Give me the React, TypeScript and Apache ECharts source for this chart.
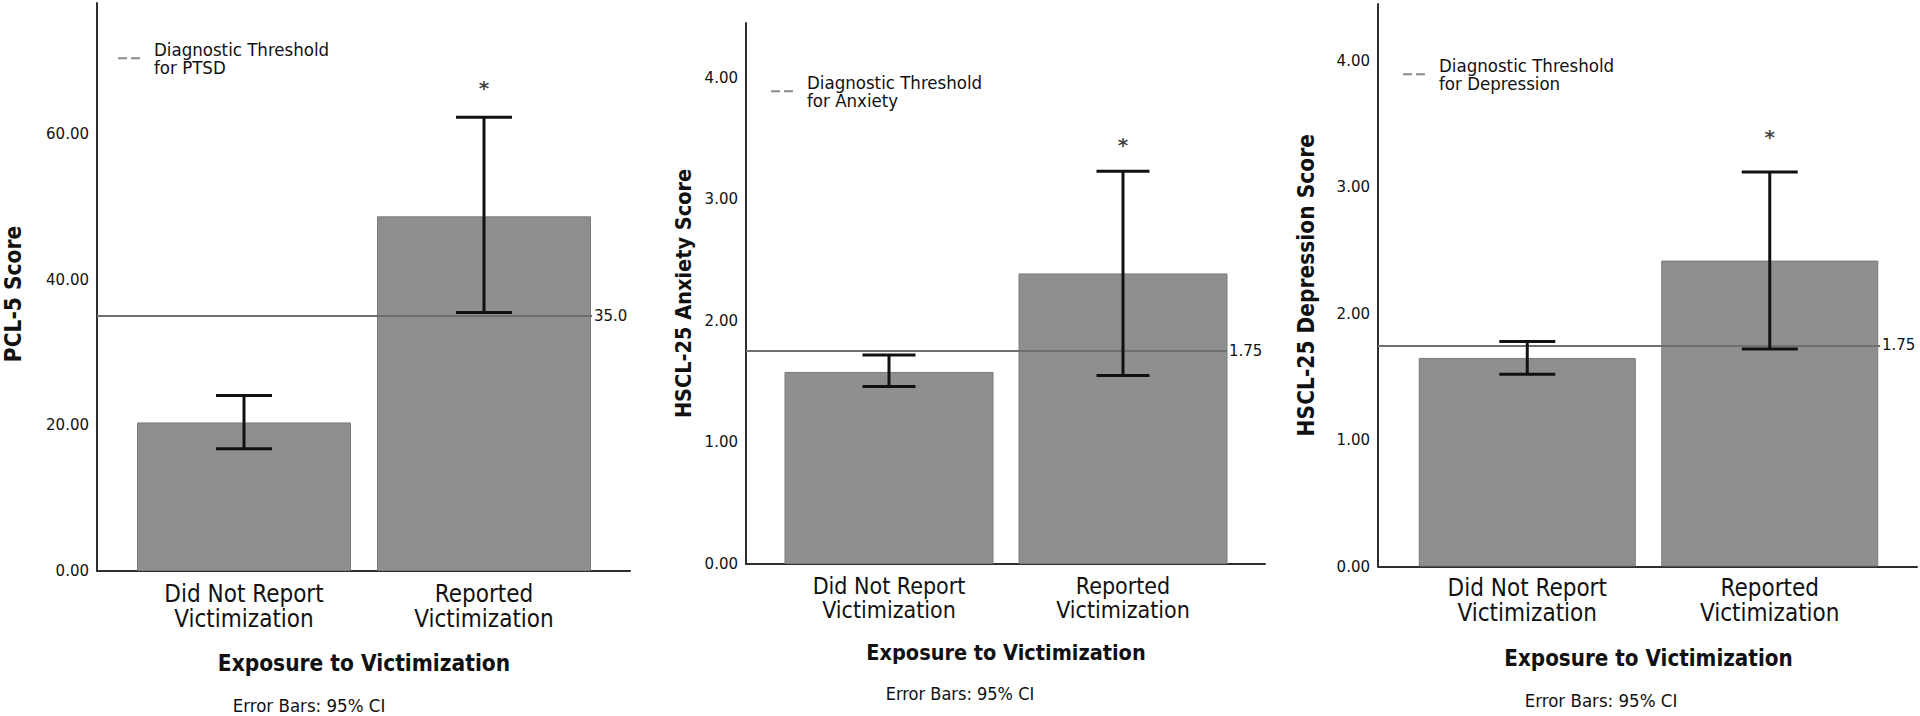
import React, { useEffect, useRef } from "react";
import * as echarts from "echarts";

// ---------- data ----------
const CATEGORIES = ["Did Not Report\nVictimization", "Reported\nVictimization"];
const X_AXIS_TITLE = "Exposure to Victimization";
const FOOTNOTE = "Error Bars: 95% CI";

const PTSD_TITLE = "PCL-5 Score";
const PTSD_MEAN = [20.4, 48.7];
const PTSD_CI_LOW = [16.8, 35.5];
const PTSD_CI_HIGH = [24.1, 62.3];
const PTSD_STAR = [null, 66.3];
const PTSD_THRESHOLD = 35;
const PTSD_THRESHOLD_LABEL = "35.0";
const PTSD_LEGEND = "Diagnostic Threshold\nfor PTSD";
const PTSD_AXIS_MAX = 78;
const PTSD_TICK_STEP = 20;

const ANX_TITLE = "HSCL-25 Anxiety Score";
const ANX_MEAN = [1.58, 2.39];
const ANX_CI_LOW = [1.46, 1.55];
const ANX_CI_HIGH = [1.72, 3.23];
const ANX_STAR = [null, 3.45];
const ANX_THRESHOLD = 1.75;
const ANX_THRESHOLD_LABEL = "1.75";
const ANX_LEGEND = "Diagnostic Threshold\nfor Anxiety";
const ANX_AXIS_MAX = 4.45;
const ANX_TICK_STEP = 1;

const DEP_TITLE = "HSCL-25 Depression Score";
const DEP_MEAN = [1.65, 2.42];
const DEP_CI_LOW = [1.52, 1.72];
const DEP_CI_HIGH = [1.78, 3.12];
const DEP_STAR = [null, 3.4];
const DEP_THRESHOLD = 1.75;
const DEP_THRESHOLD_LABEL = "1.75";
const DEP_LEGEND = "Diagnostic Threshold\nfor Depression";
const DEP_AXIS_MAX = 4.45;
const DEP_TICK_STEP = 1;

// ---------- styles ----------
const COND = '"DejaVu Sans Condensed", "DejaVu Sans", sans-serif';
const REG = '"DejaVu Sans", sans-serif';
const TEXT = "#111111";
const AXIS_COLOR = "#2e2e2e";
const BAR_FILL = "#8f8f8f";
const BAR_BORDER = "#7a7a7a";
const THRESH_COLOR = "#6f6f6f";
const LEGEND_ICON = "path://M0,0h9v2h-9z M13,0h9v2h-9z";

type Panel = {
  title: string; mean: number[]; lo: number[]; hi: number[]; star: (number | null)[];
  thr: number; thrLabel: string; legend: string; max: number; step: number;
  axisX: number; baseEnd: number; thrEnd: number; top: number; base: number;
  bLeft: number; bRight: number; barW: number; cap: number;
  nameGap: number; titleSize: number; titleShift: number;
  legLeft: number; legTop: number; legSize: number;
  catSize: number; catLH: number; catMargin: number;
  xNameGap: number; xNameSize: number;
  footX: number; footY: number; footSize: number;
};

const PANELS: Panel[] = [
  {
    title: PTSD_TITLE, mean: PTSD_MEAN, lo: PTSD_CI_LOW, hi: PTSD_CI_HIGH, star: PTSD_STAR,
    thr: PTSD_THRESHOLD, thrLabel: PTSD_THRESHOLD_LABEL, legend: PTSD_LEGEND, max: PTSD_AXIS_MAX, step: PTSD_TICK_STEP,
    axisX: 97, baseEnd: 630, thrEnd: 592, top: 3, base: 571,
    bLeft: 124, bRight: 604, barW: 214, cap: 56,
    nameGap: 73, titleSize: 22.5, titleShift: 14,
    legLeft: 118, legTop: 40, legSize: 18.5,
    catSize: 24, catLH: 25, catMargin: 10.5,
    xNameGap: 80, xNameSize: 22.5,
    footX: 309, footY: 705, footSize: 18.5,
  },
  {
    title: ANX_TITLE, mean: ANX_MEAN, lo: ANX_CI_LOW, hi: ANX_CI_HIGH, star: ANX_STAR,
    thr: ANX_THRESHOLD, thrLabel: ANX_THRESHOLD_LABEL, legend: ANX_LEGEND, max: ANX_AXIS_MAX, step: ANX_TICK_STEP,
    axisX: 746, baseEnd: 1265, thrEnd: 1227, top: 23, base: 564,
    bLeft: 772, bRight: 1240, barW: 209, cap: 53,
    nameGap: 52, titleSize: 21.5, titleShift: 0,
    legLeft: 771, legTop: 73, legSize: 18.5,
    catSize: 23, catLH: 24, catMargin: 10,
    xNameGap: 77, xNameSize: 21.5,
    footX: 960, footY: 693, footSize: 18,
  },
  {
    title: DEP_TITLE, mean: DEP_MEAN, lo: DEP_CI_LOW, hi: DEP_CI_HIGH, star: DEP_STAR,
    thr: DEP_THRESHOLD, thrLabel: DEP_THRESHOLD_LABEL, legend: DEP_LEGEND, max: DEP_AXIS_MAX, step: DEP_TICK_STEP,
    axisX: 1378, baseEnd: 1917, thrEnd: 1880, top: 4, base: 566.5,
    bLeft: 1406, bRight: 1891, barW: 217, cap: 56,
    nameGap: 61, titleSize: 22.5, titleShift: 0,
    legLeft: 1403, legTop: 56, legSize: 18.5,
    catSize: 24, catLH: 25, catMargin: 8.5,
    xNameGap: 80, xNameSize: 22.2,
    footX: 1601, footY: 700, footSize: 18.5,
  },
];

function buildOption() {
  const grid: any[] = [];
  const xAxis: any[] = [];
  const yAxis: any[] = [];
  const series: any[] = [];
  const legend: any[] = [];
  const graphic: any[] = [];

  PANELS.forEach((p, pi) => {
    const height = p.base - p.top;
    const gA = pi * 3, gT = pi * 3 + 1, gB = pi * 3 + 2;
    const common = { containLabel: false, outerBoundsMode: "none", top: p.top, height };
    grid[gA] = { ...common, left: p.axisX, width: p.baseEnd - p.axisX };
    grid[gT] = { ...common, left: p.axisX, width: p.thrEnd - p.axisX };
    grid[gB] = { ...common, left: p.bLeft, width: p.bRight - p.bLeft };

    // grid A: y axis with labels and baseline
    xAxis[gA] = {
      gridIndex: gA, type: "value", min: 0, max: 1,
      axisLine: { show: true, onZero: false, lineStyle: { color: AXIS_COLOR, width: 2 } },
      axisTick: { show: false }, axisLabel: { show: false }, splitLine: { show: false },
    };
    yAxis[gA] = {
      gridIndex: gA, type: "value", min: 0, max: p.max, interval: p.step,
      axisLine: { show: true, onZero: false, lineStyle: { color: AXIS_COLOR, width: 2 } },
      axisTick: { show: false }, splitLine: { show: false },
      axisLabel: {
        showMaxLabel: false, margin: 8, fontSize: 15, fontFamily: REG, color: TEXT,
        formatter: (v: number) => v.toFixed(2),
      },
      name: p.title, nameLocation: "middle", nameGap: p.nameGap,
      nameTextStyle: {
        fontFamily: COND, fontWeight: "bold", fontSize: p.titleSize, color: TEXT,
        padding: [0, p.titleShift, 0, 0],
      },
    };

    // grid T: threshold line
    xAxis[gT] = { gridIndex: gT, type: "value", min: 0, max: 1, show: false };
    yAxis[gT] = { gridIndex: gT, type: "value", min: 0, max: p.max, show: false };
    series.push({
      type: "line", name: p.legend, xAxisIndex: gT, yAxisIndex: gT, data: [],
      symbol: "none", itemStyle: { color: "#8a8a8a" }, lineStyle: { color: THRESH_COLOR, width: 2 },
      markLine: {
        silent: true, symbol: "none",
        lineStyle: { color: THRESH_COLOR, width: 2, type: "solid" },
        label: {
          show: true, position: "end", distance: 2, formatter: p.thrLabel,
          fontSize: 15, fontFamily: REG, color: TEXT,
        },
        data: [{ yAxis: p.thr }],
      },
    });

    // grid B: bars
    xAxis[gB] = {
      gridIndex: gB, type: "category", data: CATEGORIES,
      axisLine: { show: false }, axisTick: { show: false },
      axisLabel: {
        interval: 0, margin: p.catMargin, fontSize: p.catSize, lineHeight: p.catLH,
        fontFamily: COND, color: TEXT,
      },
      name: X_AXIS_TITLE, nameLocation: "middle", nameGap: p.xNameGap,
      nameTextStyle: { fontFamily: COND, fontWeight: "bold", fontSize: p.xNameSize, color: TEXT },
    };
    yAxis[gB] = { gridIndex: gB, type: "value", min: 0, max: p.max, show: false };

    series.push({
      type: "bar", xAxisIndex: gB, yAxisIndex: gB, data: p.mean, barWidth: p.barW,
      itemStyle: { color: BAR_FILL, borderColor: BAR_BORDER, borderWidth: 1 },
      z: 1,
    });

    const cap = p.cap;
    series.push({
      type: "custom", xAxisIndex: gB, yAxisIndex: gB, z: 5,
      data: p.lo.map((l, i) => [i, l, p.hi[i]]),
      renderItem: (params: any, api: any) => {
        const i = api.value(0);
        const a = api.coord([i, api.value(1)]);
        const b = api.coord([i, api.value(2)]);
        const st = { stroke: "#111111", lineWidth: 3 };
        return {
          type: "group",
          children: [
            { type: "line", shape: { x1: a[0], y1: a[1], x2: b[0], y2: b[1] }, style: st },
            { type: "line", shape: { x1: a[0] - cap / 2, y1: a[1], x2: a[0] + cap / 2, y2: a[1] }, style: st },
            { type: "line", shape: { x1: b[0] - cap / 2, y1: b[1], x2: b[0] + cap / 2, y2: b[1] }, style: st },
          ],
        };
      },
    });

    series.push({
      type: "scatter", xAxisIndex: gB, yAxisIndex: gB, z: 6,
      data: p.star.map((v, i) => (v == null ? null : [i, v])).filter((d) => d != null),
      symbolSize: 1, itemStyle: { color: "rgba(0,0,0,0)" },
      label: {
        show: true, position: "inside", formatter: "*", fontSize: 20, fontWeight: "bold",
        fontFamily: REG, color: TEXT,
      },
    });

    legend.push({
      data: [{ name: p.legend, icon: LEGEND_ICON }], left: p.legLeft, top: p.legTop, orient: "vertical",
      padding: 0, selectedMode: false, itemWidth: 22, itemHeight: 2,
      itemStyle: { color: "#8a8a8a" },
      textStyle: { fontFamily: COND, fontSize: p.legSize, lineHeight: 17.5, color: TEXT, padding: [0, 0, 0, 9] },
    });

    graphic.push({
      type: "text", x: p.footX, y: p.footY,
      style: {
        text: FOOTNOTE, fontFamily: COND, fontSize: p.footSize, fill: TEXT,
        textAlign: "center", textVerticalAlign: "middle",
      },
    });
  });

  return {
    animation: false,
    backgroundColor: "#ffffff",
    grid, xAxis, yAxis, series, legend, graphic,
  };
}

export default function App() {
  const ref = useRef<HTMLDivElement>(null);
  useEffect(() => {
    if (!ref.current) return;
    const chart = echarts.init(ref.current, undefined, { renderer: "svg" });
    chart.setOption(buildOption());
    return () => chart.dispose();
  }, []);
  return (
    <div
      ref={ref}
      style={{ position: "absolute", left: 0, top: 0, width: 1920, height: 716, background: "#fff" }}
    />
  );
}
